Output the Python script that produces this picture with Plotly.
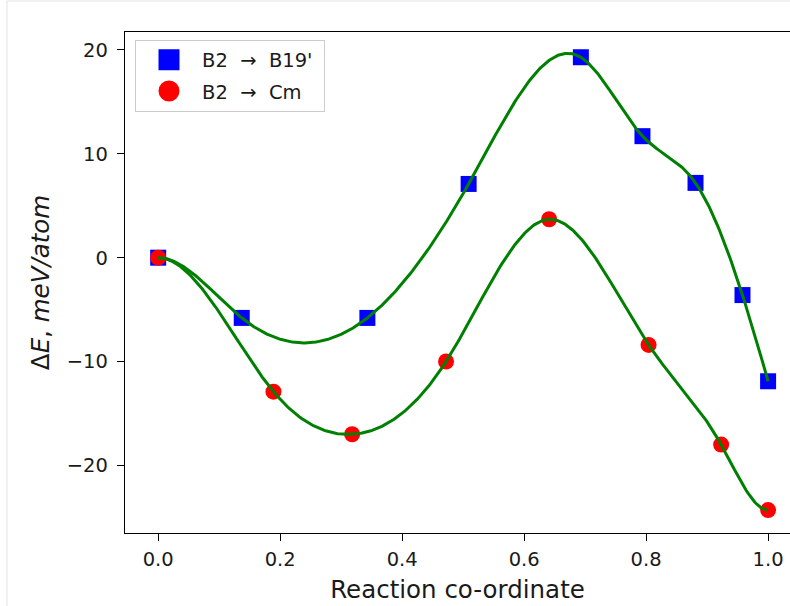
import numpy as np
import plotly.graph_objects as go

# Reaction-path energies (meV/atom) along the normalised reaction co-ordinate
b19_x = [0.0, 0.137, 0.343, 0.509, 0.693, 0.794, 0.881, 0.958, 1.0]
b19_y = [0.0, -5.8, -5.8, 7.1, 19.3, 11.7, 7.2, -3.6, -11.9]

cm_x = [0.0, 0.189, 0.318, 0.472, 0.641, 0.804, 0.923, 1.0]
cm_y = [0.0, -12.9, -17.0, -10.0, 3.7, -8.4, -18.0, -24.3]

x_ticks = [0.0, 0.2, 0.4, 0.6, 0.8, 1.0]
y_ticks = [-20, -10, 0, 10, 20]

W, H = 790, 606
ML, MR, MT, MB = 125, 0, 32, 73


def cubic_spline(x, y, start="clamped", end="clamped", n=500):
    """Cubic spline through (x, y).

    Each end is either 'clamped' (zero slope, relaxed end state) or
    'not-a-knot'. Returns n samples of the curve.
    """
    x = np.asarray(x, float)
    y = np.asarray(y, float)
    N = len(x)
    h = np.diff(x)
    A = np.zeros((N, N))
    r = np.zeros(N)
    for i in range(1, N - 1):
        A[i, i - 1] = h[i - 1]
        A[i, i] = 2 * (h[i - 1] + h[i])
        A[i, i + 1] = h[i]
        r[i] = 6 * ((y[i + 1] - y[i]) / h[i] - (y[i] - y[i - 1]) / h[i - 1])
    if start == "clamped":
        A[0, 0], A[0, 1] = 2 * h[0], h[0]
        r[0] = 6 * ((y[1] - y[0]) / h[0])
    else:
        A[0, 0], A[0, 1], A[0, 2] = -h[1], h[0] + h[1], -h[0]
    if end == "clamped":
        A[-1, -2], A[-1, -1] = h[-1], 2 * h[-1]
        r[-1] = 6 * (0.0 - (y[-1] - y[-2]) / h[-1])
    else:
        A[-1, -3], A[-1, -2], A[-1, -1] = -h[-1], h[-1] + h[-2], -h[-2]
    M = np.linalg.solve(A, r)
    t = np.linspace(x[0], x[-1], n)
    idx = np.clip(np.searchsorted(x, t, side="right") - 1, 0, N - 2)
    x0, x1 = x[idx], x[idx + 1]
    hh = x1 - x0
    s = (M[idx] * (x1 - t) ** 3 / (6 * hh)
         + M[idx + 1] * (t - x0) ** 3 / (6 * hh)
         + (y[idx] / hh - M[idx] * hh / 6) * (x1 - t)
         + (y[idx + 1] / hh - M[idx + 1] * hh / 6) * (t - x0))
    return t, s


font_family = "DejaVu Sans"
text_col = "#1a1a1a"
blue = "#0000ff"
red = "#ff0000"
green = "#008000"

fig = go.Figure()

# Computed points
fig.add_trace(go.Scatter(
    x=b19_x, y=b19_y, mode="markers", showlegend=False,
    marker=dict(symbol="square", size=16, color=blue, line=dict(width=0)),
))
fig.add_trace(go.Scatter(
    x=cm_x, y=cm_y, mode="markers", showlegend=False,
    marker=dict(symbol="circle", size=16, color=red, line=dict(width=0)),
))

# Smooth fits through each path
fits = (
    (b19_x, b19_y, "clamped", "not-a-knot"),
    (cm_x, cm_y, "clamped", "clamped"),
)
for xs, ys, bc0, bc1 in fits:
    tx, ty = cubic_spline(xs, ys, bc0, bc1)
    fig.add_trace(go.Scatter(
        x=tx, y=ty, mode="lines", showlegend=False, hoverinfo="skip",
        line=dict(color=green, width=3),
    ))

# Legend keys (enlarged symbols, as with a legend marker scale)
legend_keys = (
    ("B2\u00a0\u00a0→\u00a0\u00a0B19'\u00a0", "square", blue),
    ("B2\u00a0\u00a0→\u00a0\u00a0Cm", "circle", red),
)
for i, (label, sym, col) in enumerate(legend_keys):
    fig.add_trace(go.Scatter(
        x=[None], y=[None], mode="markers", name=label, legendgroup=str(i),
        marker=dict(symbol=sym, size=30, color=col, line=dict(width=5, color=col)),
    ))

plot_w = W - ML - MR
plot_h = H - MT - MB


def px_x(p):
    return (p - ML) / plot_w


def px_y(p):
    return (H - MB - p) / plot_h


fig.update_layout(
    width=W, height=H,
    margin=dict(l=ML, r=MR, t=MT, b=MB, pad=0),
    paper_bgcolor="white", plot_bgcolor="white",
    font=dict(family=font_family, color=text_col, size=19.5),
    showlegend=True,
    legend=dict(
        x=px_x(135), y=px_y(39.5), xanchor="left", yanchor="top",
        bgcolor="rgba(255,255,255,0.8)", bordercolor="#cccccc", borderwidth=1,
        font=dict(family=font_family, size=19.5, color=text_col),
        tracegroupgap=3, itemwidth=56,
    ),
    xaxis=dict(
        range=[-0.0544, 1.0359], tickvals=x_ticks,
        ticktext=[f"{v:.1f}" for v in x_ticks],
        showgrid=False, zeroline=False,
        showline=True, mirror=True, linecolor="black", linewidth=1.3,
        ticks="outside", ticklen=7, tickwidth=1.3, tickcolor="black",
        ticklabelstandoff=1,
        tickfont=dict(size=19.5),
        title=dict(text="Reaction co-ordinate", font=dict(size=24.5), standoff=11),
    ),
    yaxis=dict(
        range=[-26.51, 21.73], tickvals=y_ticks,
        ticktext=[str(v).replace("-", "\u2212") for v in y_ticks],
        showgrid=False, zeroline=False,
        showline=True, mirror=False, linecolor="black", linewidth=1.3,
        ticks="outside", ticklen=7, tickwidth=1.3, tickcolor="black",
        ticklabelstandoff=5,
        tickfont=dict(size=19.5),
        title=dict(text="Δ<i>E</i>, <i>meV/atom</i>", font=dict(size=24.5), standoff=10),
    ),
    shapes=[
        dict(type="line", xref="paper", yref="paper",
             x0=px_x(7), x1=px_x(W), y0=px_y(1), y1=px_y(1),
             line=dict(color="#e3e3e3", width=1)),
        dict(type="line", xref="paper", yref="paper",
             x0=px_x(7), x1=px_x(7), y0=px_y(1), y1=px_y(H),
             line=dict(color="#e3e3e3", width=1)),
    ],
)

fig.write_html("out.html")
